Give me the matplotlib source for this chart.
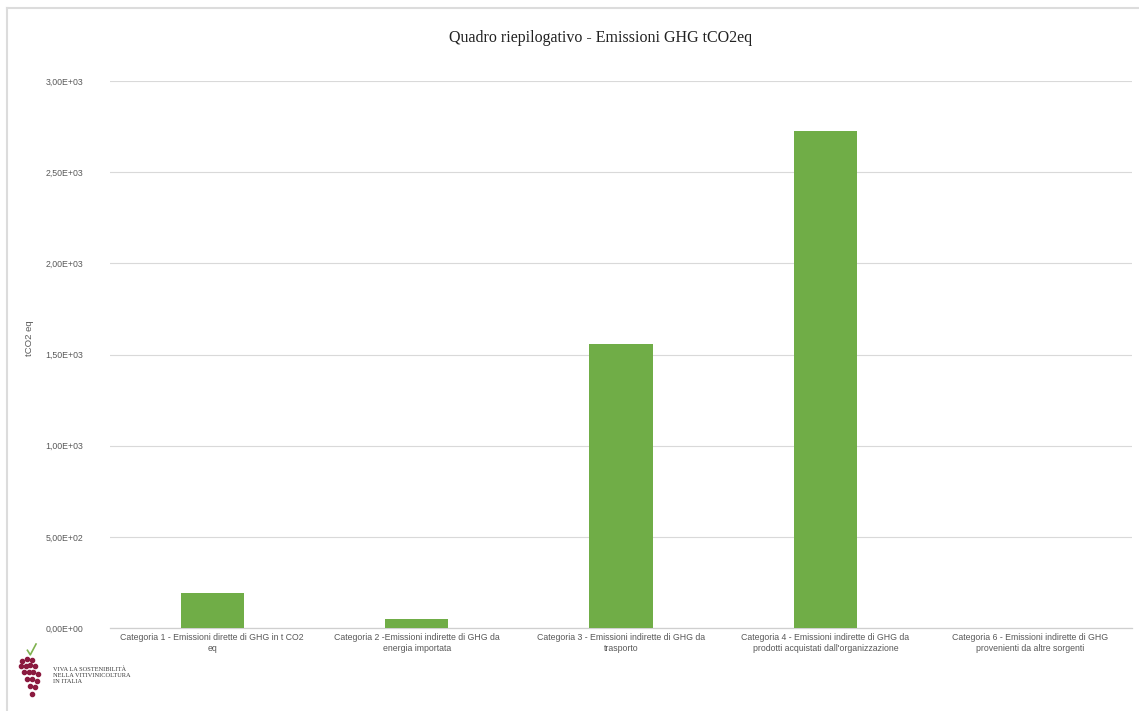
#!/usr/bin/env python3
# -*- coding: utf-8 -*-
"""Quadro riepilogativo - Emissioni GHG (bar chart)."""
import matplotlib
matplotlib.use("Agg")
import matplotlib.pyplot as plt
from matplotlib.lines import Line2D
from matplotlib.ticker import FuncFormatter

categories = [
    "Categoria 1 - Emissioni dirette di GHG in t CO2\neq",
    "Categoria 2 -Emissioni indirette di GHG da\nenergia importata",
    "Categoria 3 - Emissioni indirette di GHG da\ntrasporto",
    "Categoria 4 - Emissioni indirette di GHG da\nprodotti acquistati dall'organizzazione",
    "Categoria 6 - Emissioni indirette di GHG\nprovenienti da altre sorgenti",
]
emissions = [192, 49, 1558, 2726, 0]
y_ticks = [0, 500, 1000, 1500, 2000, 2500, 3000]

BAR = "#70ad47"
GRID = "#d9d9d9"
TXT = "#595959"


def sci_it(v, _pos=None):
    s = "%.2E" % v
    return s.replace(".", ",")


fig = plt.figure(figsize=(11.39, 7.11), dpi=100)
fig.patch.set_facecolor("white")
# thin frame: only top and left edges are visible in the original
fig.add_artist(Line2D([0.006, 1.0], [0.989, 0.989], transform=fig.transFigure,
                      color="#dcdcdc", linewidth=1.5))
fig.add_artist(Line2D([0.006, 0.006], [0.0, 0.989], transform=fig.transFigure,
                      color="#dcdcdc", linewidth=1.5))

ax = fig.add_axes([0.0966, 0.1167, 0.8974, 0.7693])
x = list(range(len(categories)))
ax.bar(x, emissions, width=0.31, color=BAR, zorder=3)

ax.set_xlim(-0.5, len(categories) - 0.5)
ax.set_ylim(0, 3000)
ax.set_yticks(y_ticks)
ax.yaxis.set_major_formatter(FuncFormatter(sci_it))
ax.set_xticks(x)
ax.set_xticklabels(categories, fontsize=6.3, color=TXT, family="Liberation Sans",
                   linespacing=1.25)
ax.tick_params(axis="x", length=0, pad=3.5)
ax.tick_params(axis="y", length=0, pad=19, labelsize=6.3, labelcolor=TXT)
for lab in ax.get_yticklabels():
    lab.set_family("Liberation Sans")

ax.grid(axis="y", color=GRID, linewidth=0.8, zorder=0)
for side in ("top", "right", "left"):
    ax.spines[side].set_visible(False)
ax.spines["bottom"].set_color("#cfcfcf")
ax.spines["bottom"].set_linewidth(0.9)

ax.set_ylabel("tCO2 eq", fontsize=6.8, color=TXT, family="Liberation Sans",
              labelpad=12)
ax.yaxis.set_label_coords(-0.074, 0.53)
fig.text(0.527, 0.946, "Quadro riepilogativo - Emissioni GHG tCO2eq",
         ha="center", va="center", fontsize=11.5, family="Liberation Serif",
         color="#222222")

# small logo bottom-left
lx = fig.add_axes([0.014, 0.015, 0.028, 0.08])
lx.set_xlim(0, 10)
lx.set_ylim(0, 10)
lx.axis("off")
gx = [2, 3.5, 5, 1.5, 3, 4.5, 6, 2.5, 4, 5.5, 7, 3.5, 5, 6.5, 4.5, 6, 5]
gy = [7.0, 7.3, 7.1, 6.0, 6.1, 6.2, 6.0, 4.9, 5.0, 4.9, 4.6, 3.8, 3.7, 3.4, 2.6, 2.4, 1.2]
lx.scatter(gx, gy, s=9, color="#8b1a3f", zorder=2)
lx.plot([3.6, 4.5, 6.3], [8.8, 8.0, 9.9], color="#7fb24f", linewidth=1.2)
fig.text(0.0465, 0.05, "VIVA LA SOSTENIBILITÀ\nNELLA VITIVINICOLTURA\nIN ITALIA",
         ha="left", va="center", fontsize=4.6, family="Liberation Serif",
         color="#3a3a3a", linespacing=1.25)

fig.savefig("out.png", dpi=100)
